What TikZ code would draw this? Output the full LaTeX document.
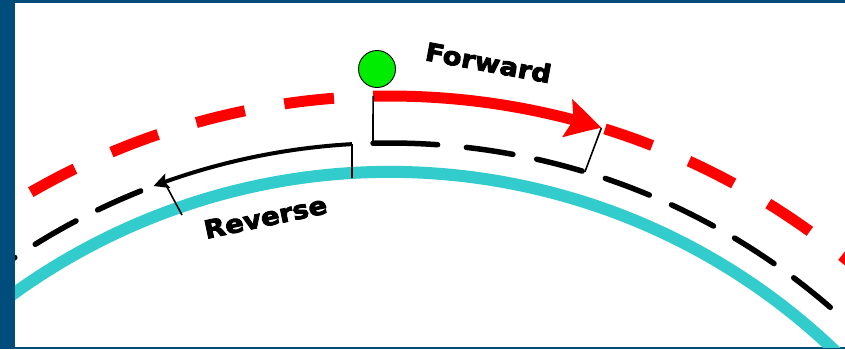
\documentclass[tikz,border=0pt]{standalone}
\usepackage{fontspec}
\usetikzlibrary{arrows.meta,bending}
\newfontfamily\lblfont[FakeBold=3.5,FakeStretch=1.1]{DejaVu Sans Bold}
\definecolor{frameblue}{RGB}{0,76,122}
\definecolor{trackcyan}{RGB}{51,204,204}
\definecolor{dotgreen}{RGB}{0,236,0}
\begin{document}
\begin{tikzpicture}[x=1pt,y=1pt,
  thinline/.style={black,line width=1.6pt},
  reddash/.style={red,line width=11pt,dash pattern=on 50pt off 40pt},
  blackdash/.style={black,line width=5.5pt,line cap=round,dash pattern=on 47pt off 24.3pt},
  lbl/.style={inner sep=0pt,anchor=base west,font=\lblfont\fontsize{25}{30}\selectfont}]
\useasboundingbox (0,0) rectangle (845,-349);
\fill[frameblue] (0,0) rectangle (845,-349);
\fill[white] (15,-3) rectangle (845,-347);
\begin{scope}
\clip (15,-3) rectangle (845,-347);
\begin{scope}[shift={(390,-815)}]
  \coordinate (cy0) at (165:643);
  \coordinate (fstart) at (91.35:719);
  \coordinate (ftip) at (72.9:719);
  \coordinate (rl0) at (94.47:719);
  \coordinate (rr0) at (72.6:719);
  \coordinate (fcorner) at (91.45:672);
  \coordinate (bd0) at (83.47:672);
  \coordinate (fcorner2) at (73.14:672);
  \coordinate (rcorner) at (93.24:672);
  \coordinate (bl0) at (111.78:672);
\end{scope}
\coordinate (rbot) at (352,-178);
\coordinate (rleg1) at (167,-187);
\coordinate (rleg2) at (182,-215);
% track
\draw[trackcyan,line width=12pt] (cy0) arc[start angle=165,end angle=15,radius=643];
% black dashed reference line
\draw[blackdash] (bd0) arc[start angle=83.47,end angle=15,radius=672];
\draw[blackdash] (bl0) arc[start angle=111.78,end angle=165,radius=672];
\draw[black,line width=5.5pt,line cap=round] (fcorner) arc[start angle=91.45,end angle=85.94,radius=672];
% red dashed line
\draw[reddash] (rl0) arc[start angle=94.47,end angle=165,radius=719];
\draw[reddash] (rr0) arc[start angle=72.6,end angle=10,radius=719];
% forward arrow
\draw[red,line width=11pt,-{Stealth[length=35pt,width=38pt,inset=6pt,bend]}]
  (fstart) arc[start angle=91.35,end angle=72.9,radius=719];
% reverse arrow
\draw[black,line width=4pt,-{Stealth[length=15pt,width=15pt,inset=3pt,bend]}]
  (rcorner) arc[start angle=93.24,end angle=110.6,radius=672];
% bracket legs
\draw[thinline] (fstart) -- (fcorner);
\draw[thinline] (fcorner2) -- (ftip);
\draw[thinline] (rcorner) -- (rbot);
\draw[thinline] (rleg1) -- (rleg2);
\end{scope}
\node[circle,draw=black,line width=0.9pt,fill=dotgreen,minimum size=37pt,inner sep=0pt] (dot) at (377,-69) {};
\node[lbl,rotate=-10.5] (fwd) at (424,-60) {Forward};
\node[lbl,rotate=12] (rev) at (206,-239) {Reverse};
\end{tikzpicture}
\end{document}
